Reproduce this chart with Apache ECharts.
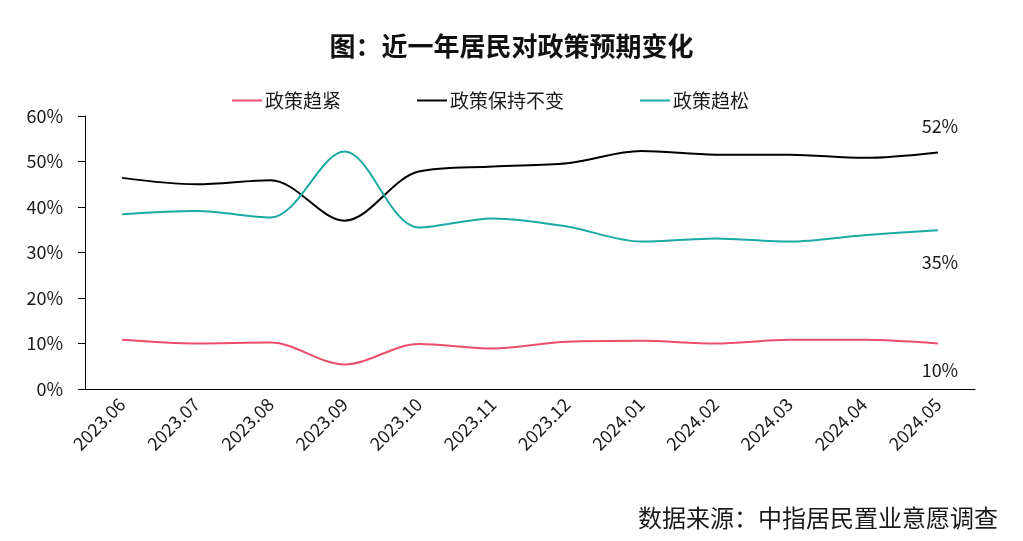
<!DOCTYPE html>
<html><head><meta charset="utf-8">
<script src="https://cdn.jsdelivr.net/npm/echarts@6/dist/echarts.min.js"></script>
<style>html,body{margin:0;padding:0;background:#fff}#c{width:1023px;height:541px}</style>
</head><body><div id="c"></div>
<script>
const categories = ['2023.06','2023.07','2023.08','2023.09','2023.10','2023.11','2023.12','2024.01','2024.02','2024.03','2024.04','2024.05'];
const tighten = [10.8, 10.0, 10.2, 5.4, 9.9, 8.9, 10.4, 10.6, 10.0, 10.8, 10.8, 10.0];
const unchanged = [46.4, 45.0, 45.9, 37.0, 47.8, 48.9, 49.6, 52.3, 51.5, 51.5, 50.8, 52.0];
const loosen = [38.4, 39.1, 37.7, 52.2, 35.5, 37.5, 35.7, 32.4, 33.1, 32.4, 33.8, 34.9];
const yTicks = [0, 10, 20, 30, 40, 50, 60];
const names = ['政策趋紧', '政策保持不变', '政策趋松'];
const colors = ['#ec4d6c', '#000000', '#1aa9a3'];
const font = '"Noto Sans CJK SC", "Noto Sans", sans-serif';

function endLabel(dy) {
  return {
    show: true, formatter: p => Math.round(p.value) + '%', distance: 0,
    align: 'center', verticalAlign: 'middle', offset: [2, dy],
    fontSize: 18, color: '#1a1a1a', fontFamily: font
  };
}

const chart = echarts.init(document.getElementById('c'), null, { renderer: 'canvas' });
chart.setOption({
  animation: false,
  title: [{
    text: '图：近一年居民对政策预期变化', left: 'center', top: 28,
    textStyle: { fontSize: 26, fontWeight: 'bold', color: '#111', fontFamily: font }
  }, {
    text: '数据来源：中指居民置业意愿调查', right: 20, top: 501,
    textStyle: { fontSize: 24, fontWeight: 'normal', color: '#1a1a1a', fontFamily: font }
  }],
  legend: {
    top: 86, left: 227, itemGap: 76, itemWidth: 30, itemHeight: 2,
    icon: 'rect',
    textStyle: { fontSize: 19, color: '#1a1a1a', fontFamily: font, padding: [0, 0, 0, -2] },
    data: names
  },
  grid: { left: 85, right: 48, top: 116, bottom: 152 },
  xAxis: {
    type: 'category', data: categories, boundaryGap: true,
    axisLine: { lineStyle: { color: '#000', width: 1 } },
    axisTick: { show: false },
    axisLabel: { rotate: 45, fontSize: 18, color: '#1a1a1a', margin: 12, fontFamily: font }
  },
  yAxis: {
    type: 'value', min: yTicks[0], max: yTicks[yTicks.length - 1], interval: 10,
    axisLine: { show: true, lineStyle: { color: '#000', width: 1 } },
    axisTick: { show: true, length: 7, lineStyle: { color: '#000' } },
    splitLine: { show: false },
    axisLabel: { formatter: '{value}%', fontSize: 18, color: '#1a1a1a', margin: 22, fontFamily: font }
  },
  series: [
    { name: names[0], type: 'line', smooth: 0.33, symbol: 'none', data: tighten, endLabel: endLabel(27), lineStyle: { width: 2, color: colors[0] }, itemStyle: { color: colors[0] } },
    { name: names[1], type: 'line', smooth: 0.33, symbol: 'none', data: unchanged, endLabel: endLabel(-26), lineStyle: { width: 2, color: colors[1] }, itemStyle: { color: colors[1] } },
    { name: names[2], type: 'line', smooth: 0.33, symbol: 'none', data: loosen, endLabel: endLabel(32), lineStyle: { width: 2, color: colors[2] }, itemStyle: { color: colors[2] } }
  ]
});
</script></body></html>
